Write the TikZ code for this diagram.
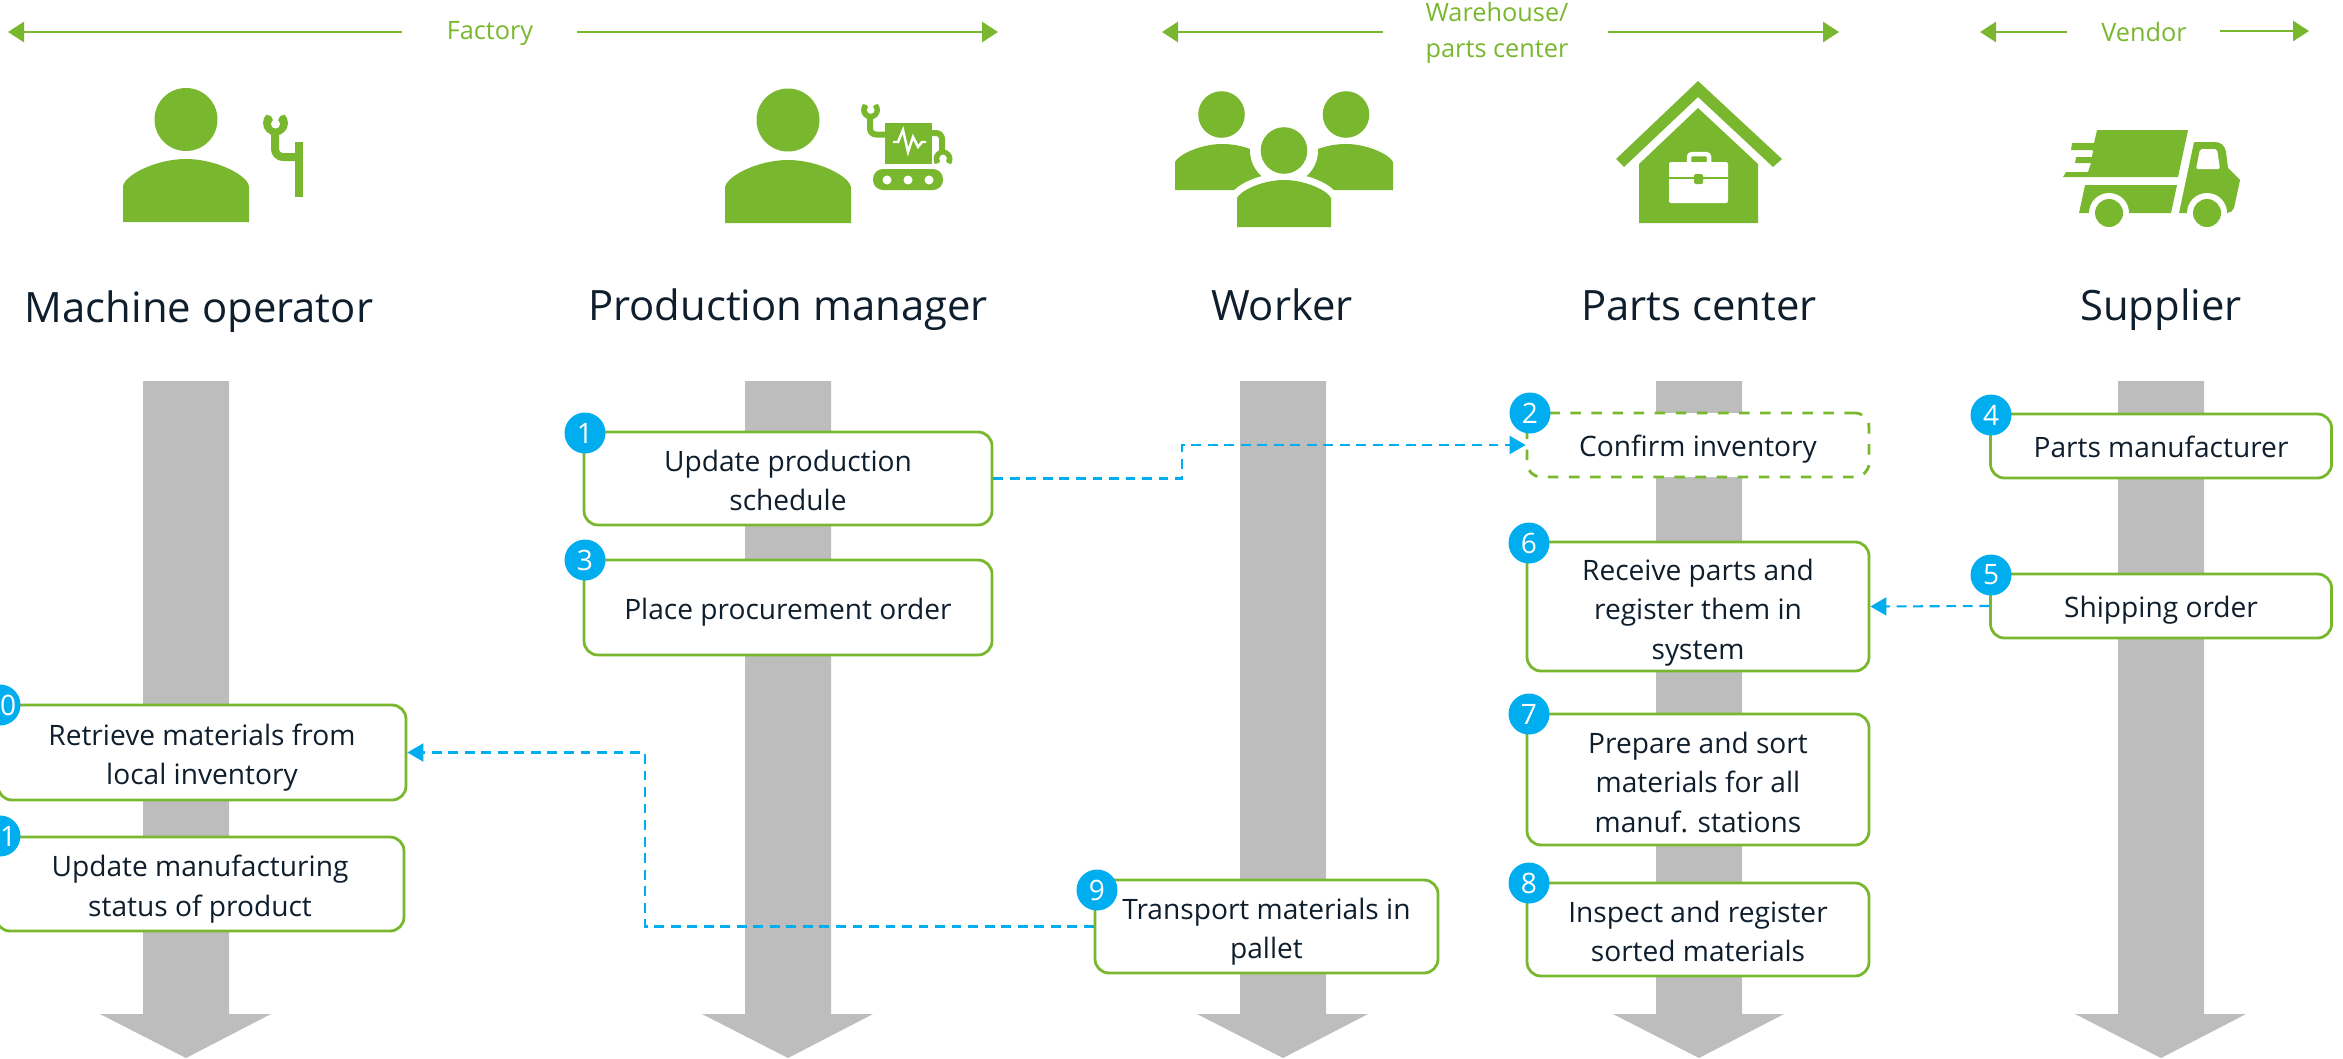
\documentclass[tikz,border=0pt]{standalone}
\usepackage{fontspec}
\setmainfont{Open Sans}
\usetikzlibrary{arrows.meta}
\definecolor{cgreen}{HTML}{78B72E}
\definecolor{cgrey}{HTML}{BDBDBD}
\definecolor{cblue}{HTML}{00AEEF}
\definecolor{cink}{HTML}{0F1E2D}
\tikzset{
  flowbox/.style={draw=cgreen, fill=white, line width=0.8pt, rounded corners=1.4mm, inner sep=0pt, align=center, text=cink, font=\fontsize{8}{11.2}\selectfont, execute at begin node={\rule{0pt}{9.8pt}}, execute at end node={\rule[-3pt]{0pt}{3pt}}},
  twolines/.style={text height=21.3pt, text depth=3pt},
  threelines/.style={text height=33pt, text depth=3pt},
  badge/.style={circle, fill=cblue, text=white, minimum size=4.1mm, inner sep=0pt, font=\fontsize{8}{9}\selectfont},
  title/.style={text=cink, inner sep=0pt, anchor=base, font=\fontsize{11.9}{15}\selectfont},
  region/.style={text=cgreen, inner sep=0pt, align=center, font=\fontsize{7.2}{10.3}\selectfont},
  regionline/.style={draw=cgreen, line width=0.8pt, -{Triangle[length=1.6mm,width=2mm]}},
  msgline/.style={draw=cblue, line width=0.6pt, dash pattern=on 2.8pt off 1.9pt, -{Triangle[length=1.6mm,width=1.8mm]}},
  shaft/.style={fill=cgrey},
  icon/.style={fill=cgreen},
  cut/.style={fill=white},
  armline/.style={draw=cgreen, line width=0.8mm, rounded corners=0.8mm},
  thinarm/.style={draw=cgreen, line width=0.6mm, rounded corners=0.6mm},
  halo/.style={preaction={draw=white, line width=1.4mm}},
}
\begin{document}
\begin{tikzpicture}[x=0.1mm,y=-0.1mm]
\useasboundingbox (0,0) rectangle (2343,1058);

% grey time lines
\fill[shaft] (143,381) -- (229,381) -- (229,1014) -- (271,1014) -- (186,1058) -- (100,1014) -- (143,1014) -- cycle;
\fill[shaft] (745,381) -- (831,381) -- (831,1014) -- (873,1014) -- (788,1058) -- (702,1014) -- (745,1014) -- cycle;
\fill[shaft] (1240,381) -- (1326,381) -- (1326,1014) -- (1368,1014) -- (1283,1058) -- (1197,1014) -- (1240,1014) -- cycle;
\fill[shaft] (1656,381) -- (1742,381) -- (1742,1014) -- (1784,1014) -- (1699,1058) -- (1613,1014) -- (1656,1014) -- cycle;
\fill[shaft] (2118,381) -- (2204,381) -- (2204,1014) -- (2246,1014) -- (2161,1058) -- (2075,1014) -- (2118,1014) -- cycle;

% region headers
\node[region] (factory) at (490,34) {Factory};
\node[region] (warehouse) at (1497,33) {Warehouse/\\parts center};
\node[region] (vendor) at (2144,32) {Vendor};
\coordinate (factoryA) at (402,32);
\coordinate (factoryB) at (8,32);
\coordinate (factoryC) at (577,32);
\coordinate (factoryD) at (998,32);
\coordinate (warehouseA) at (1383,32);
\coordinate (warehouseB) at (1162,32);
\coordinate (warehouseC) at (1608,32);
\coordinate (warehouseD) at (1839,32);
\coordinate (vendorA) at (2067,32);
\coordinate (vendorB) at (1980,32);
\coordinate (vendorC) at (2220,31);
\coordinate (vendorD) at (2309,31);
\draw[regionline] (factoryA) -- (factoryB);
\draw[regionline] (factoryC) -- (factoryD);
\draw[regionline] (warehouseA) -- (warehouseB);
\draw[regionline] (warehouseC) -- (warehouseD);
\draw[regionline] (vendorA) -- (vendorB);
\draw[regionline] (vendorC) -- (vendorD);

% machine operator icon
\fill[icon] (186,119.5) circle (31.5);
\fill[icon] (123,222) -- (123,187) .. controls (123,176) and (155,159) .. (186,159) .. controls (217,159) and (249,176) .. (249,187) -- (249,222) -- cycle;
\fill[icon] (295,142) rectangle (303,197);
\draw[armline] (299,157) -- (275,157) -- (275,128);
\fill[icon] (275.5,123) circle (12.5);
\fill[cut] (275.5,124) circle (4.5);
\fill[cut] (262,108) -- (289,108) -- (289,113) -- (280,116) -- (277,122) -- (274,122) -- (271,116) -- (262,113) -- cycle;

% production manager icon
\fill[icon] (788,120) circle (31.5);
\fill[icon] (725,223) -- (725,188) .. controls (725,177) and (757,160) .. (788,160) .. controls (819,160) and (851,177) .. (851,188) -- (851,223) -- cycle;
\fill[icon] (885,123) rectangle (932,164);
\draw[draw=white, line width=0.7pt] (893,142) -- (898,142) -- (903,130) -- (908,152) -- (913,137) -- (918,147) -- (922,142) -- (926,142);
\draw[thinarm] (885,134.5) -- (870,134.5) -- (870,112);
\fill[icon] (870.5,110) circle (9.5);
\fill[cut] (870.7,110) circle (3.8);
\fill[cut] (860,99) -- (881,99) -- (881,103) -- (874,105) -- (872,109) -- (869,109) -- (867,105) -- (860,103) -- cycle;
\draw[thinarm] (932,133) -- (942,133) -- (942,153);
\fill[icon] (943,159) circle (9.5);
\fill[cut] (943,158.5) circle (3.8);
\fill[cut] (932,169) -- (954,169) -- (954,165) -- (947,163) -- (945,158) -- (942,158) -- (939,163) -- (932,165) -- cycle;
\fill[icon, rounded corners=1mm] (873,169) rectangle (943,190);
\fill[cut] (887,180) circle (4.5);
\fill[cut] (908,180) circle (4.5);
\fill[cut] (929,180) circle (4.5);

% worker icon
\fill[icon] (1221.5,114.5) circle (23.3);
\fill[icon] (1346,114.5) circle (23.3);
\fill[icon] (1175,190) -- (1175,162) .. controls (1178,155) and (1200,144) .. (1222,144) .. controls (1240,144) and (1256,150) .. (1268,158) -- (1268,190) -- cycle;
\fill[icon] (1393,190) -- (1393,162) .. controls (1390,155) and (1368,144) .. (1346,144) .. controls (1328,144) and (1312,150) .. (1300,158) -- (1300,190) -- cycle;
\fill[cut] (1284,150.5) circle (34);
\fill[icon, halo] (1237,227) -- (1237,198) .. controls (1240,191) and (1262,180) .. (1284,180) .. controls (1306,180) and (1328,191) .. (1331,198) -- (1331,227) -- cycle;
\fill[icon] (1284,150.5) circle (23.3);

% parts center icon
\fill[icon] (1698,81) -- (1782,159) -- (1773,167) -- (1698,97) -- (1624,167) -- (1616,159) -- cycle;
\fill[icon] (1639,223) -- (1639,164) -- (1698,108) -- (1758,164) -- (1758,223) -- cycle;
\fill[cut, rounded corners=0.2mm] (1669,162) rectangle (1728,203);
\draw[draw=white, line width=0.45mm, rounded corners=0.3mm] (1689,162) -- (1689,154) -- (1709,154) -- (1709,162);
\fill[icon] (1669,176.5) rectangle (1728,178.5);
\fill[icon, rounded corners=0.2mm] (1694,174) rectangle (1703,184);

% supplier icon
\fill[icon] (2097,130) -- (2188,130) -- (2178,177) -- (2063,177) -- (2066,172) -- (2088,172) -- (2091,163) -- (2075,163) -- (2076,157) -- (2092,157) -- (2093,150) -- (2071,150) -- (2072,143) -- (2094,143) -- cycle;
\fill[icon] (2085,185) -- (2177,185) -- (2171,213) -- (2079,213) -- cycle;
\fill[icon] (2194,142) -- (2215,142) .. controls (2221,142) and (2225,146) .. (2226,152) -- (2228,168) -- (2240,180) -- (2234,208) .. controls (2233,211) and (2230,213) .. (2227,213) -- (2179,213) -- cycle;
\fill[cut, rounded corners=0.2mm] (2200,149) -- (2217,149) -- (2220,169) -- (2196,169) -- cycle;
\fill[cut] (2109,213) circle (20);
\fill[cut] (2207,213) circle (20);
\fill[icon] (2109,213) circle (14);
\fill[icon] (2207,213) circle (14);

% column titles
\node[title] (operator) at (199,322.5) {Machine operator};
\node[title] (manager) at (788,320.5) {Production manager};
\node[title] (worker) at (1282,320.5) {Worker};
\node[title] (center) at (1699,320.5) {Parts center};
\node[title] (supplier) at (2161,320.5) {Supplier};

% process steps
\node[flowbox, twolines, minimum width=40.8mm, minimum height=9.3mm] (update) at (788,478.5) {Update production\\schedule};
\node[flowbox, minimum width=40.8mm, minimum height=9.5mm] (order) at (788,607.5) {Place procurement order};
\node[flowbox, twolines, minimum width=40.8mm, minimum height=9.5mm] (retrieve) at (202,752.5) {Retrieve materials from\\local inventory};
\node[flowbox, twolines, minimum width=40.8mm, minimum height=9.4mm] (status) at (200,884) {Update manufacturing\\status of product};
\node[flowbox, dashed, minimum width=34.2mm, minimum height=6.4mm] (confirm) at (1698,445) {Confirm inventory};
\node[flowbox, threelines, minimum width=34.2mm, minimum height=12.9mm] (receive) at (1698,606.5) {Receive parts and\\register them in\\system};
\node[flowbox, threelines, minimum width=34.2mm, minimum height=13.1mm] (sort) at (1698,779.5) {Prepare and sort\\materials for all\\manuf. stations};
\node[flowbox, twolines, minimum width=34.2mm, minimum height=9.3mm] (inspect) at (1698,929.5) {Inspect and register\\sorted materials};
\node[flowbox, twolines, minimum width=34.3mm, minimum height=9.3mm] (transport) at (1266.5,926.5) {Transport materials in\\pallet};
\node[flowbox, minimum width=34.1mm, minimum height=6.4mm] (parts) at (2161,446) {Parts manufacturer};
\node[flowbox, minimum width=34.1mm, minimum height=6.4mm] (shipping) at (2161,606) {Shipping order};

% step numbers
\node[badge] (stepa) at (585,433) {1};
\node[badge] (stepb) at (1530,413) {2};
\node[badge] (stepc) at (585,560) {3};
\node[badge] (stepd) at (1991,415) {4};
\node[badge] (stepe) at (1991,575) {5};
\node[badge] (stepf) at (1529,543) {6};
\node[badge] (stepg) at (1529,714) {7};
\node[badge] (steph) at (1529,883) {8};
\node[badge] (stepi) at (1097,890) {9};
\node[badge] (stepj) at (0,705) {10};
\node[badge] (stepk) at (0,836) {11};

% messages
\coordinate (bendA) at (1182,478.5);
\coordinate (bendB) at (645,926.5);
\draw[msgline] (update.east) -- (bendA) |- (confirm.west);
\draw[msgline] (shipping.west) -- (receive.east);
\draw[msgline] (transport.west) -- (bendB) |- (retrieve.east);
\end{tikzpicture}
\end{document}
